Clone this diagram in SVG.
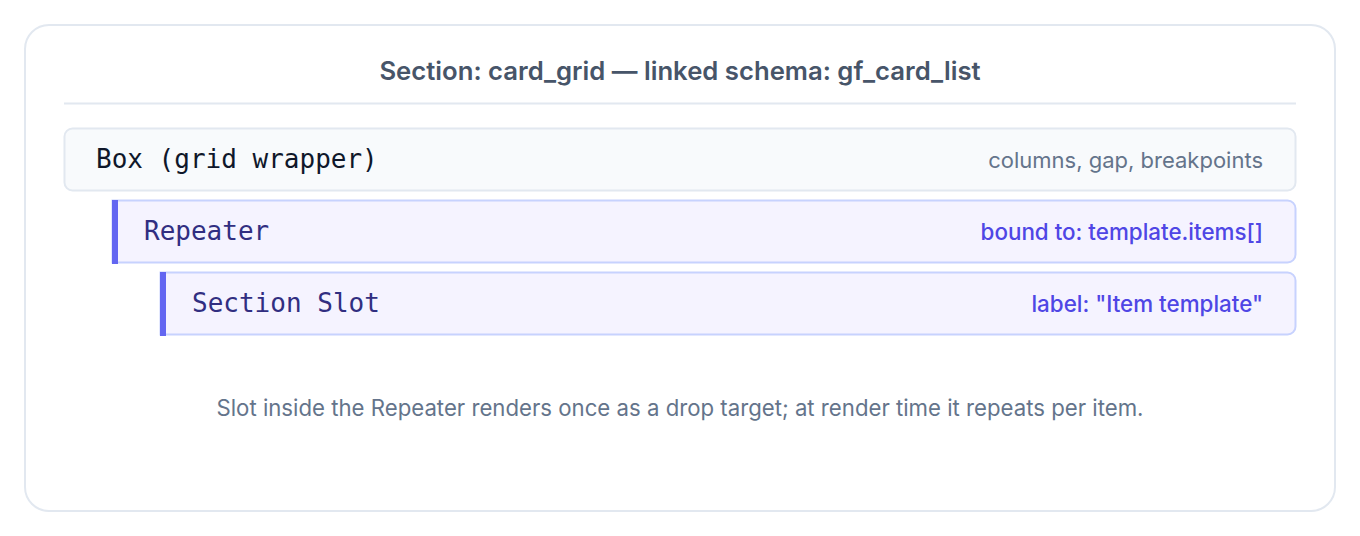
<svg xmlns="http://www.w3.org/2000/svg" width="1360" height="536" viewBox="0 0 1360 536">
<style>
.sans{font-family:Inter,"Noto Sans","Liberation Sans",sans-serif}
.mono{font-family:"DejaVu Sans Mono","Liberation Mono",monospace;font-size:26px}
.meta{font-size:22px;text-anchor:end}
.bound{font-size:22.4px;font-weight:500}
</style>
<rect x="0" y="0" width="1360" height="536" fill="#ffffff"/>
<g id="frame">
<rect x="25" y="25" width="1310" height="486" rx="24" fill="#ffffff" stroke="#e2e8f0" stroke-width="2"/>
<text class="sans" x="680" y="80" text-anchor="middle" font-size="25.7" font-weight="600" fill="#475569">Section: card_grid — linked schema: gf_card_list</text>
<line x1="64" y1="103.5" x2="1296" y2="103.5" stroke="#e2e8f0" stroke-width="2"/>
</g>
<g id="box">
<rect x="64.5" y="128.5" width="1231" height="62" rx="8" fill="#f8fafc" stroke="#e2e8f0" stroke-width="2"/>
<text class="mono" x="96" y="168" fill="#0f172a">Box (grid wrapper)</text>
<text class="sans meta" x="1263" y="168" fill="#64748b">columns, gap, breakpoints</text>
</g>
<g id="repeater">
<path d="M112.5,200.5 H1287.5 A8,8 0 0 1 1295.5,208.5 V254.5 A8,8 0 0 1 1287.5,262.5 H112.5 Z" fill="#f5f3ff" stroke="#c7d2fe" stroke-width="2"/>
<rect x="112" y="200" width="6" height="64" fill="#6366f1"/>
<text class="mono" x="144" y="240" fill="#312e81">Repeater</text>
<text class="sans meta bound" x="1263" y="240" fill="#4f46e5">bound to: template.items[]</text>
</g>
<g id="slot">
<path d="M160.5,272.5 H1287.5 A8,8 0 0 1 1295.5,280.5 V326.5 A8,8 0 0 1 1287.5,334.5 H160.5 Z" fill="#f5f3ff" stroke="#c7d2fe" stroke-width="2"/>
<rect x="160" y="272" width="6" height="64" fill="#6366f1"/>
<text class="mono" x="192" y="312" fill="#312e81">Section Slot</text>
<text class="sans meta bound" x="1263" y="312" fill="#4f46e5">label: "Item template"</text>
</g>
<g id="connectors"></g>
<g id="caption">
<text class="sans" x="680" y="416" text-anchor="middle" font-size="22.2" fill="#64748b">Slot inside the Repeater renders once as a drop target; at render time it repeats per item.</text>
</g>
</svg>
